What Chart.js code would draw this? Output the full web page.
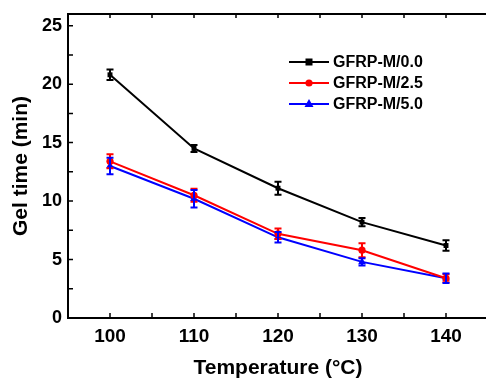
<!DOCTYPE html>
<html><head><meta charset="utf-8">
<script src="https://cdn.jsdelivr.net/npm/chart.js@4/dist/chart.umd.min.js"></script>
<style>html,body{margin:0;padding:0;background:#fff;overflow:hidden}#w{width:488px;height:381px}</style>
</head><body><div id="w"><canvas id="c"></canvas></div>
<script>
const temps = [100, 110, 120, 130, 140];
const gfrp00 = [20.8, 14.5, 11.1, 8.2, 6.2];
const gfrp25 = [13.4, 10.5, 7.2, 5.8, 3.4];
const gfrp50 = [13.0, 10.2, 6.9, 4.8, 3.4];
const err00 = [0.45, 0.3, 0.55, 0.35, 0.45];
const err25 = [0.6, 0.55, 0.45, 0.6, 0.35];
const err50 = [0.7, 0.75, 0.45, 0.3, 0.4];
const seriesNames = ['GFRP-M/0.0', 'GFRP-M/2.5', 'GFRP-M/5.0'];
const yLabels = [0, 5, 10, 15, 20, 25];
const xLabels = [100, 110, 120, 130, 140];

const FONT = '"Liberation Sans", Arial, sans-serif';
const pts = (vals) => temps.map((t, i) => ({x: t, y: vals[i]}));

const errorBars = {
  id: 'errorBars',
  afterDatasetsDraw(chart) {
    const ctx = chart.ctx, xs = chart.scales.x, ys = chart.scales.y;
    chart.data.datasets.forEach(ds => {
      ctx.save();
      ctx.strokeStyle = ds.borderColor; ctx.lineWidth = 2;
      ds.data.forEach((p, i) => {
        const e = ds.errors[i];
        const x = xs.getPixelForValue(p.x);
        const y1 = ys.getPixelForValue(p.y - e), y2 = ys.getPixelForValue(p.y + e);
        ctx.beginPath();
        ctx.moveTo(x, y1); ctx.lineTo(x, y2);
        ctx.moveTo(x - 3.5, y1); ctx.lineTo(x + 3.5, y1);
        ctx.moveTo(x - 3.5, y2); ctx.lineTo(x + 3.5, y2);
        ctx.stroke();
      });
      ctx.restore();
    });
  }
};

const frame = {
  id: 'frame',
  afterDraw(chart) {
    const ctx = chart.ctx, a = chart.chartArea, xs = chart.scales.x, ys = chart.scales.y;
    ctx.save();
    ctx.strokeStyle = '#000'; ctx.lineWidth = 2;
    ctx.strokeRect(a.left, a.top, a.right - a.left, a.bottom - a.top);
    ctx.lineWidth = 1.5;
    ctx.beginPath();
    xs.ticks.forEach(t => {
      if (t.value <= xs.min || t.value >= xs.max) return;
      const x = xs.getPixelForValue(t.value);
      ctx.moveTo(x, a.bottom); ctx.lineTo(x, a.bottom - 5);
      ctx.moveTo(x, a.top); ctx.lineTo(x, a.top + 4);
    });
    ys.ticks.forEach(t => {
      if (t.value <= ys.min || t.value >= ys.max) return;
      const y = ys.getPixelForValue(t.value);
      ctx.moveTo(a.left, y); ctx.lineTo(a.left + 5, y);
    });
    ctx.stroke();
    ctx.restore();
  }
};

const legendBox = {
  id: 'legendBox',
  afterDraw(chart) {
    const ctx = chart.ctx;
    ctx.save();
    chart.data.datasets.forEach((ds, i) => {
      const y = 62 + i * 21;
      ctx.strokeStyle = ds.borderColor; ctx.lineWidth = 2;
      ctx.beginPath(); ctx.moveTo(289, y); ctx.lineTo(329, y); ctx.stroke();
      ctx.fillStyle = ds.borderColor;
      if (ds.pointStyle === 'rect') ctx.fillRect(305.5, y - 3.5, 7, 7);
      else if (ds.pointStyle === 'circle') { ctx.beginPath(); ctx.arc(309, y, 3.6, 0, Math.PI * 2); ctx.fill(); }
      else { ctx.beginPath(); ctx.moveTo(309, y - 5); ctx.lineTo(313.5, y + 3); ctx.lineTo(304.5, y + 3); ctx.closePath(); ctx.fill(); }
      ctx.fillStyle = '#000';
      ctx.font = 'bold 16px ' + FONT;
      ctx.textBaseline = 'middle';
      ctx.fillText(ds.label, 333, y + 1);
    });
    ctx.restore();
  }
};

const mk = (label, vals, errs, color, style, r) => ({
  label, data: pts(vals), errors: errs, borderColor: color, backgroundColor: color,
  borderWidth: 2, pointStyle: style, pointRadius: r, pointBorderWidth: 0, tension: 0
});

new Chart(document.getElementById('c'), {
  type: 'line',
  data: {
    datasets: [
      mk(seriesNames[0], gfrp00, err00, '#000000', 'rect', 3.5),
      mk(seriesNames[1], gfrp25, err25, '#ff0000', 'circle', 3.6),
      mk(seriesNames[2], gfrp50, err50, '#0000ff', 'triangle', 4.5)
    ]
  },
  options: {
    responsive: true, maintainAspectRatio: false, animation: false,
    layout: {autoPadding: false, padding: {top: 14, right: 0, left: 0, bottom: 0}},
    plugins: {legend: {display: false}, tooltip: {enabled: false}},
    scales: {
      x: {
        type: 'linear', min: 95, max: 145,
        afterBuildTicks(s) { const t = []; for (let v = 95; v <= 145; v += 5) t.push({value: v}); s.ticks = t; },
        afterFit(s) { s.height = 63; s.paddingLeft = 0; s.paddingRight = 0; },
        ticks: {autoSkip: false, maxRotation: 0, padding: 7, color: '#000',
          font: {family: FONT, size: 19, weight: 'bold'},
          callback: v => xLabels.includes(v) ? String(v) : ''},
        grid: {display: false, drawTicks: false},
        border: {display: false},
        title: {display: true, text: 'Temperature (\u00B0C)', color: '#000',
          font: {family: FONT, size: 21, weight: 'bold'}, padding: {top: 0, bottom: 0}}
      },
      y: {
        min: 0, max: 26,
        afterBuildTicks(s) { const t = []; for (let v = 0; v <= 25; v += 2.5) t.push({value: v}); s.ticks = t; },
        afterFit(s) { s.width = 68; s.paddingTop = 0; s.paddingBottom = 0; },
        ticks: {autoSkip: false, padding: 6, color: '#000',
          font: {family: FONT, size: 18, weight: 'bold'},
          callback: v => yLabels.includes(v) ? String(v) : ''},
        grid: {display: false, drawTicks: false},
        border: {display: false},
        title: {display: true, text: 'Gel time (min)', color: '#000',
          font: {family: FONT, size: 21, weight: 'bold'}, padding: {top: 9, bottom: 0}}
      }
    }
  },
  plugins: [errorBars, frame, legendBox]
});
</script>
</body></html>
